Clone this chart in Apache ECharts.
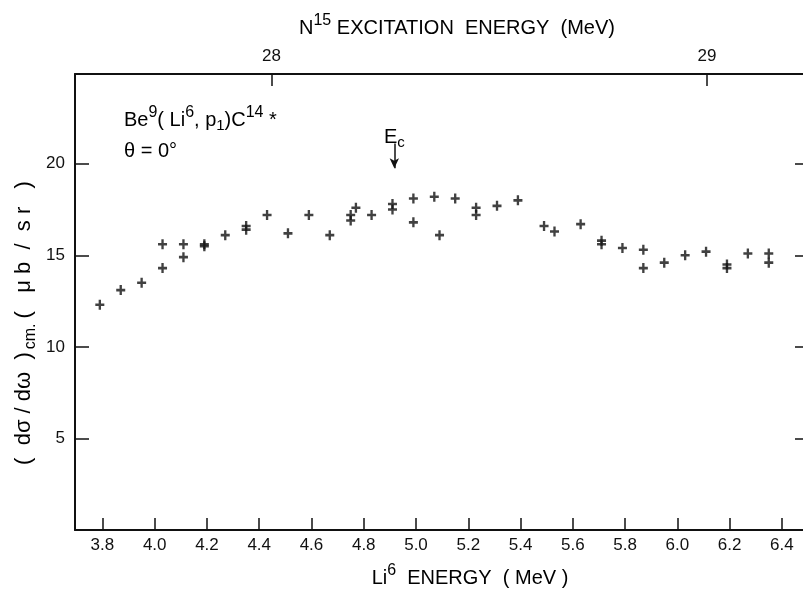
<!DOCTYPE html>
<html>
<head>
<meta charset="utf-8">
<script src="https://cdn.jsdelivr.net/npm/echarts@6/dist/echarts.min.js"></script>
<style>
  html, body { margin: 0; background: #fff; }
  #chart { width: 803px; height: 594px; }
</style>
</head>
<body>
<div id="chart"></div>
<script>
// Li6 energy (MeV) and cross section (ub/sr)
const energy = [3.79, 3.87, 3.95, 4.03, 4.03, 4.11, 4.11, 4.19, 4.19, 4.27, 4.35, 4.35,
  4.43, 4.51, 4.59, 4.67, 4.75, 4.75, 4.77, 4.83, 4.91, 4.91, 4.99, 4.99, 5.07, 5.09,
  5.15, 5.23, 5.23, 5.31, 5.39, 5.49, 5.53, 5.63, 5.71, 5.71, 5.79, 5.87, 5.87, 5.95,
  6.03, 6.11, 6.19, 6.19, 6.27, 6.35, 6.35]
const crossSection = [12.3, 13.1, 13.5, 14.3, 15.6, 15.6, 14.9, 15.6, 15.5, 16.1, 16.6, 16.4,
  17.2, 16.2, 17.2, 16.1, 16.9, 17.2, 17.6, 17.2, 17.8, 17.5, 18.1, 16.8, 18.2, 16.1,
  18.1, 17.6, 17.2, 17.7, 18.0, 16.6, 16.3, 16.7, 15.8, 15.6, 15.4, 15.3, 14.3, 14.6,
  15.0, 15.2, 14.5, 14.3, 15.1, 15.1, 14.6]

const xTicks = [3.8, 4.0, 4.2, 4.4, 4.6, 4.8, 5.0, 5.2, 5.4, 5.6, 5.8, 6.0, 6.2, 6.4]
const yTicks = [5, 10, 15, 20]
const exTicks = [28, 29]
const ecEnergy = 4.917

const xMin = 3.695
const xMax = 6.481
// N15 excitation energy as a function of Li6 energy
const toEx = e => 28 + 0.6 * (e - 4.447)

const FONT = '"Liberation Sans", Arial, sans-serif'
const INK = '#111'
const PLUS = 'path://M3.7,0h2.6v10h-2.6zM0,3.7h10v2.6h-10z'

const rich = {
  b: {fontSize: 20, color: INK, fontFamily: FONT},
  s: {fontSize: 16, color: INK, fontFamily: FONT, padding: [0, 0, 14, 0]},
  d: {fontSize: 15, color: INK, fontFamily: FONT, padding: [12, 0, 0, 0]},
  y: {fontSize: 22, color: INK, fontFamily: FONT},
  yd: {fontSize: 16, color: INK, fontFamily: FONT, padding: [14, 5, 0, 3]},
}

const noZero = {onZero: false, lineStyle: {color: INK, width: 2}}
const tickStyle = {color: INK, width: 1.5}

const chart = echarts.init(document.getElementById('chart'))

chart.setOption({
  animation: false,
  backgroundColor: '#fff',
  textStyle: {fontFamily: FONT, color: INK},
  grid: {left: 75, right: 0, top: 74, bottom: 64},
  xAxis: [
    {
      type: 'value', min: xMin, max: xMax, position: 'bottom',
      axisLine: noZero,
      axisTick: {inside: true, length: 12, customValues: xTicks, lineStyle: tickStyle},
      axisLabel: {customValues: xTicks, formatter: v => v.toFixed(1), fontSize: 17, color: INK, margin: 7},
      splitLine: {show: false},
    },
    {
      type: 'value', min: toEx(xMin), max: toEx(xMax), position: 'top',
      axisLine: noZero,
      axisTick: {inside: true, length: 12, customValues: exTicks, lineStyle: tickStyle},
      axisLabel: {customValues: exTicks, fontSize: 17, color: INK, margin: 9},
      splitLine: {show: false},
    },
  ],
  yAxis: [
    {
      type: 'value', min: 0, max: 24.9,
      axisLine: {show: true, onZero: false, lineStyle: {color: INK, width: 2}},
      axisTick: {show: true, inside: true, length: 14, customValues: yTicks, lineStyle: tickStyle},
      axisLabel: {customValues: yTicks, fontSize: 17, color: INK, margin: 10},
      splitLine: {show: false},
    },
    {
      type: 'value', min: 0, max: 24.9, position: 'right',
      axisLine: {show: false, onZero: false},
      axisTick: {show: true, inside: true, length: 8, customValues: yTicks, lineStyle: tickStyle},
      axisLabel: {show: false},
      splitLine: {show: false},
    },
  ],
  series: [
    {
      type: 'scatter',
      data: energy.map((e, i) => [e, crossSection[i]]),
      symbol: PLUS,
      symbolSize: [9, 10],
      itemStyle: {color: INK},
      markLine: {
        silent: true,
        symbol: ['none', 'arrow'],
        symbolSize: [7, 10],
        lineStyle: {color: INK, width: 1.5, type: 'solid'},
        label: {show: false},
        data: [[{coord: [ecEnergy, 21.1]}, {coord: [ecEnergy, 19.75]}]],
      },
    },
  ],
  graphic: [
    {type: 'text', x: 457, y: 28, style: {text: '{b|N}{s|15}{b| EXCITATION  ENERGY  (MeV)}', rich, align: 'center', verticalAlign: 'middle'}},
    {type: 'text', x: 470, y: 578, style: {text: '{b|Li}{s|6}{b|  ENERGY  ( MeV )}', rich, align: 'center', verticalAlign: 'middle'}},
    {type: 'text', x: 24, y: 323, rotation: Math.PI / 2, style: {text: '{y|(  dσ / dω  )}{yd|cm.}{y|(   μ b  /  s r   )}', rich, align: 'center', verticalAlign: 'middle'}},
    {type: 'text', x: 124, y: 120, style: {text: '{b|Be}{s|9}{b|( Li}{s|6}{b|, p}{d|1}{b|)C}{s|14}{b| *}', rich, align: 'left', verticalAlign: 'middle'}},
    {type: 'text', x: 124, y: 151, style: {text: '{b|θ = 0°}', rich, align: 'left', verticalAlign: 'middle'}},
    {type: 'text', x: 384, y: 137, style: {text: '{b|E}{d|c}', rich, align: 'left', verticalAlign: 'middle'}},
  ],
})
</script>
</body>
</html>
